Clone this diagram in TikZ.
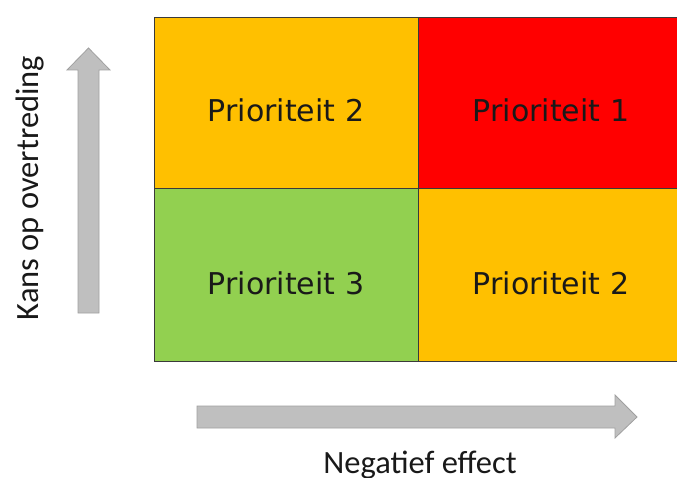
\documentclass[tikz,border=0pt]{standalone}
\usepackage{fontspec}
\setmainfont{Carlito}
\newfontfamily\cellfont{DejaVu Sans}
\definecolor{cOrange}{HTML}{FFC000}
\definecolor{cRed}{HTML}{FF0000}
\definecolor{cGreen}{HTML}{92D050}
\definecolor{arrFill}{HTML}{BFBFBF}
\definecolor{arrLine}{HTML}{A0A0A0}
\definecolor{gridLine}{HTML}{3A3A3A}
\begin{document}
\begin{tikzpicture}[x=1pt,y=-1pt,
  cell/.style={draw=gridLine,line width=0.8pt,anchor=north west,inner sep=0pt},
  celltext/.style={font=\cellfont\fontsize{30}{36}\selectfont,text=black!90},
  bigarrow/.style={fill=arrFill,draw=arrLine,line width=0.8pt,line join=miter},
  axislabel/.style={font=\fontsize{32.5}{38}\selectfont,text=black!90}]
\useasboundingbox (0,0) rectangle (677,478);
\clip (0,0) rectangle (677,478);
\node[cell,fill=cOrange,minimum width=264pt,minimum height=171pt] (c2a) at (154,17) {};
\node[cell,fill=cRed,minimum width=264pt,minimum height=171pt] (c1) at (418,17) {};
\node[cell,fill=cGreen,minimum width=264pt,minimum height=173pt] (c3) at (154,188) {};
\node[cell,fill=cOrange,minimum width=264pt,minimum height=173pt] (c2b) at (418,188) {};
\node[celltext] (t2a) at (286,110) {Prioriteit 2};
\node[celltext] (t1) at (551,110) {Prioriteit 1};
\node[celltext] (t3) at (286,283) {Prioriteit 3};
\node[celltext] (t2b) at (551,283) {Prioriteit 2};
% up arrow
\draw[bigarrow] (78,313) -- (78,70) -- (67,70) -- (88.5,48) -- (110,70) -- (99,70) -- (99,313) -- cycle;
% right arrow
\draw[bigarrow] (197,406) -- (615,406) -- (615,395) -- (637,417) -- (615,438) -- (615,428) -- (197,428) -- cycle;
\node[axislabel] (ylab) at (30,188) [rotate=90] {Kans op overtreding};
\node[axislabel] (xlab) at (420,465) {Negatief effect};
\end{tikzpicture}
\end{document}
